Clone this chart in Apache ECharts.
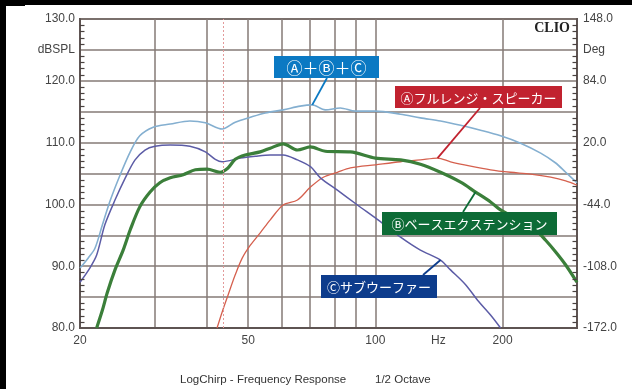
<!DOCTYPE html>
<html><head><meta charset="utf-8">
<script src="https://cdn.jsdelivr.net/npm/echarts@6/dist/echarts.min.js"></script>
<style>html,body{margin:0;padding:0;background:#fff}#c{width:643px;height:389px}</style>
</head><body><div id="c"></div>
<script>
// frequency grid / tick labels
const gridFreqs = [20,30,40,50,60,70,80,90,100,200,300];
const labelFreqs = [20,50,100,141,200];
const markerFreq = 43.4;
// series: [frequency Hz, dB SPL]
const sumABC = [[20,89.7],[20.9,91.3],[21.7,92.9],[22.6,96.7],[23.6,100.7],[24.9,104.8],[26.3,108.5],[27.7,111.1],[29.8,112.5],[32.7,113.0],[36.4,113.5],[39.6,113.2],[43.4,112.2],[46.6,113.3],[50.6,114.1],[54.9,114.8],[60.5,115.3],[66.4,115.9],[70.9,116.1],[76.1,115.3],[82.6,115.6],[89.7,115.1],[100,115.1],[114.7,114.6],[127.8,114.0],[142.6,113.5],[159.1,112.8],[177.4,112.0],[197.8,111.1],[220.6,109.9],[246.1,108.3],[267.1,106.7],[282.1,105.2],[300,103.5]];
const fullRange = [[42.2,80],[43.4,82.6],[44.8,85.3],[46.6,88.6],[48.4,91.3],[50.6,93.4],[53.4,95.4],[56.4,97.5],[60.5,99.9],[65.4,100.7],[70.2,102.8],[75.3,104.4],[81.3,105.2],[87.3,105.9],[100,106.4],[114.7,106.9],[127.8,107.2],[140.3,107.5],[150.6,106.9],[168.0,106.2],[187.3,105.6],[208.9,105.2],[233.0,104.9],[259.9,104.4],[282.1,103.8],[300,103.1]];
const bassExt = [[21.9,80],[22.6,82.9],[23.2,85.7],[24.2,89.4],[25.3,92.6],[26.3,95.9],[27.7,99.6],[29.3,102.0],[30.9,103.5],[32.7,104.3],[35.1,104.8],[37.5,105.6],[40.0,105.7],[42.9,105.2],[44.8,105.9],[46.6,107.3],[49.2,108.0],[53.4,108.5],[56.4,109.1],[60.5,109.8],[65.4,108.8],[70.2,109.3],[76.1,108.6],[87.3,108.5],[100,107.5],[114.7,107.2],[127.8,106.5],[142.6,105.2],[159.1,103.6],[172.6,102.0],[187.3,100.4],[197.8,99.1],[214.7,97.8],[236.9,96.2],[252.9,94.2],[267.1,92.3],[282.1,90.2],[300,87.4]];
const subwoofer = [[20,87.4],[21.1,89.7],[21.9,91.8],[22.9,96.7],[24.2,100.7],[25.6,104.3],[27.0,107.2],[28.5,108.8],[30.1,109.4],[32.7,109.6],[36.4,109.4],[39.6,108.5],[41.8,107.3],[43.4,106.9],[47.9,107.5],[52.0,107.8],[56.4,108.0],[60.5,108.0],[65.4,107.2],[70.2,106.1],[74.1,104.3],[81.3,102.3],[90.7,99.9],[102.8,97.2],[114.7,94.7],[127.8,92.6],[142.6,91.0],[150.6,89.4],[163.5,87.0],[174.5,84.5],[187.3,82.1],[197.8,80]];

const L = f => Math.log10(f);
const toXY = arr => arr.map(p => [L(p[0]), p[1]]);
const chart = echarts.init(document.getElementById('c'));
const lab = {color:'#444', fontSize:12, fontFamily:'Liberation Sans, Arial, sans-serif'};
const fmtDeg = v => { const d=(v-80)*6.4-172; return d.toFixed(1); };
const axLine = {show:true,lineStyle:{color:'#5e5452',width:2}};
chart.setOption({
  animation:false,
  backgroundColor:'#fff',
  grid:{left:80,right:66,top:19,bottom:61,show:true,borderColor:'#5e5452',borderWidth:2},
  xAxis:{type:'value',min:L(20),max:L(300),
    axisLine:axLine,
    axisTick:{show:false,customValues:gridFreqs.map(L)},
    splitLine:{show:true,lineStyle:{color:'#857a76',width:1.5}},
    axisLabel:Object.assign({customValues:labelFreqs.map(L),margin:7,
      formatter:v=>{const f=Math.pow(10,v);return Math.abs(f-141)<1?'Hz':String(Math.round(f));}},lab)
  },
  yAxis:[
    {type:'value',min:80,max:130,interval:5,position:'left',
     axisLine:axLine,axisTick:{show:false},
     splitLine:{show:true,lineStyle:{color:'#857a76',width:1.5}},
     axisLabel:Object.assign({margin:5,formatter:v=>v===125?'dBSPL':(v%10===0?v.toFixed(1):'')},lab)},
    {type:'value',min:80,max:130,interval:5,position:'right',
     axisLine:axLine,axisTick:{show:false},
     splitLine:{show:false},
     axisLabel:Object.assign({margin:6,formatter:v=>v===125?'Deg':(v%10===0?fmtDeg(v):'')},lab)}
  ],
  series:[
    {name:'A+B+C',type:'line',data:toXY(sumABC),showSymbol:false,smooth:0.3,lineStyle:{color:'#84afd0',width:1.6},z:3,
     markLine:{silent:true,symbol:'none',label:{show:false},lineStyle:{color:'#e39a9a',type:[2,2],width:1},data:[{xAxis:L(markerFreq)}]}},
    {name:'A',type:'line',data:toXY(fullRange),showSymbol:false,smooth:0.3,lineStyle:{color:'#d5604e',width:1.3},z:3},
    {name:'B',type:'line',data:toXY(bassExt),showSymbol:false,smooth:0.3,lineStyle:{color:'#3b7f3a',width:3.2},z:4},
    {name:'C',type:'line',data:toXY(subwoofer),showSymbol:false,smooth:0.3,lineStyle:{color:'#5c5ca6',width:1.5},z:3}
  ]
});
const px = (f,v) => chart.convertToPixel({xAxisIndex:0,yAxisIndex:0},[L(f),v]);
const at = (arr,f) => arr.find(p => Math.abs(p[0]-f) < 0.05);
function box(x,y,w,h,color,text,fs,ax,ay,pt){
  const p = px(pt[0],pt[1]);
  return [
    {type:'line',shape:{x1:ax,y1:ay,x2:p[0],y2:p[1]},style:{stroke:color,lineWidth:1.8},z:50},
    {type:'rect',shape:{x:x,y:y,width:w,height:h},style:{fill:color},z:51},
    {type:'text',x:x+w/2,y:y+h/2+1,style:{text:text,fill:'#fff',font:fs+'px "Noto Sans CJK JP", sans-serif',align:'center',verticalAlign:'middle'},z:52}
  ];
}
// inside minor ticks every 1 dB on both vertical axes
const ticks = [];
for (let v = 81; v < 130; v++) {
  if (v % 5 === 0) continue;
  const a = px(20, v), b = px(300, v);
  const y = Math.round(a[1]) + 0.5;
  ticks.push({type:'line',shape:{x1:a[0],y1:y,x2:a[0]+4.5,y2:y},style:{stroke:'#4a4240',lineWidth:1.2},z:40});
  ticks.push({type:'line',shape:{x1:b[0]-4.5,y1:y,x2:b[0],y2:y},style:{stroke:'#4a4240',lineWidth:1.2},z:40});
}
chart.setOption({graphic:[].concat(
  ticks,
  [{type:'rect',shape:{x:0,y:0,width:632,height:5},style:{fill:'#000'},z:100},
   {type:'rect',shape:{x:0,y:0,width:25,height:6},style:{fill:'#000'},z:100},
   {type:'rect',shape:{x:0,y:0,width:6,height:389},style:{fill:'#000'},z:100},
   {type:'text',x:570,y:28,style:{text:'CLIO',fill:'#222',font:'bold 14px "Liberation Serif", serif',align:'right',verticalAlign:'middle'},z:60},
   {type:'text',x:180,y:380,style:{text:'LogChirp - Frequency Response',fill:'#333',font:'11.5px "Liberation Sans", Arial, sans-serif',verticalAlign:'middle'},z:60},
   {type:'text',x:375,y:380,style:{text:'1/2 Octave',fill:'#333',font:'11.5px "Liberation Sans", Arial, sans-serif',verticalAlign:'middle'},z:60}],
  box(274,56,105,22,'#0b79c3','Ⓐ＋Ⓑ＋Ⓒ',16,327,78,at(sumABC,70.9)),
  box(395,86,167,22,'#c1222f','Ⓐフルレンジ・スピーカー',13,480,108,at(fullRange,140.3)),
  box(382,212,175,23,'#0d6b36','Ⓑベースエクステンション',13,463,212,at(bassExt,172.6)),
  box(321,275,116,23,'#0d3c8c','Ⓒサブウーファー',13,423,275,at(subwoofer,142.6))
)});
</script></body></html>
